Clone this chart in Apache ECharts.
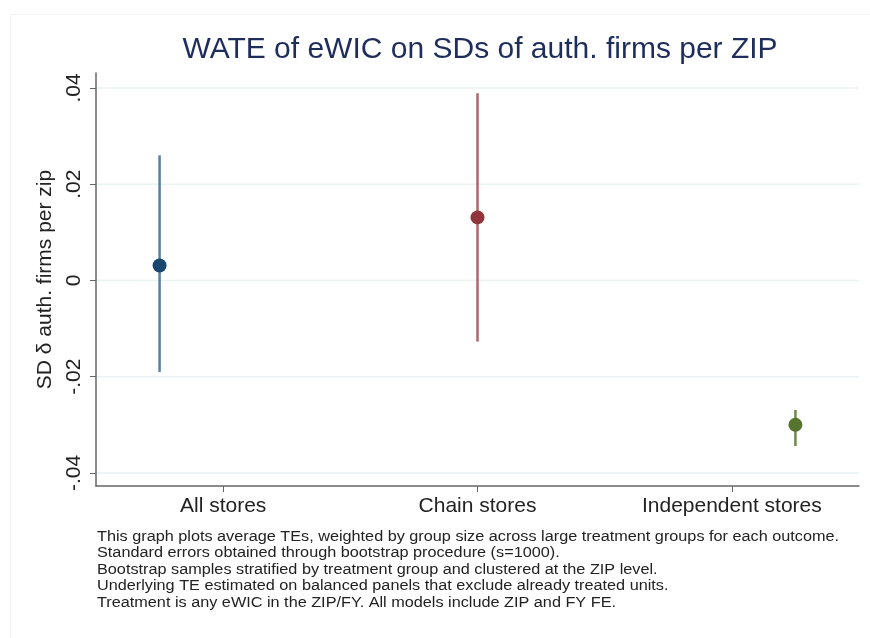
<!DOCTYPE html>
<html>
<head>
<meta charset="utf-8">
<script src="https://cdn.jsdelivr.net/npm/echarts@6/dist/echarts.min.js"></script>
<style>
	html, body { margin: 0; padding: 0; background: #fff; }
	#chart { width: 870px; height: 638px; }
</style>
</head>
<body>
<div id="chart"></div>
<script>
	'use strict'
	var groups = ['All stores', 'Chain stores', 'Independent stores'];
	var xPos = [1, 2, 3];
	var labelPos = [1.2, 2, 2.8];
	var estimate = [0.0031, 0.0131, -0.0300];
	var ciLow = [-0.0190, -0.0127, -0.0344];
	var ciHigh = [0.0260, 0.0389, -0.0269];
	var yTicks = [-0.04, -0.02, 0, 0.02, 0.04];
	var yTickLabels = ['-.04', '-.02', '0', '.02', '.04'];
	var notes = [
		'This graph plots average TEs, weighted by group size across large treatment groups for each outcome.',
		'Standard errors obtained through bootstrap procedure (s=1000).',
		'Bootstrap samples stratified by treatment group and clustered at the ZIP level.',
		'Underlying TE estimated on balanced panels that exclude already treated units.',
		'Treatment is any eWIC in the ZIP/FY. All models include ZIP and FY FE.'
	];

	var dotColors = ['#1a476f', '#90353b', '#55752f'];
	var barColors = ['#5a7ea2', '#b0646b', '#6d8a4c'];
	var font = 'Liberation Sans, Arial, sans-serif';

	/*----Chart----*/
	var chart = echarts.init(document.getElementById('chart'));
	var option = {
		animation: false,
		backgroundColor: '#fff',
		title: {
			text: 'WATE of eWIC on SDs of auth. firms per ZIP',
			left: 475,
			textAlign: 'center',
			top: 30,
			textStyle: {
				fontFamily: font,
				fontSize: 30,
				fontWeight: 'normal',
				color: '#1e2d5c'
			}
		},
		grid: {
			left: 96,
			right: 11,
			top: 73,
			bottom: 152,
			outerBoundsMode: 'none'
		},
		xAxis: {
			type: 'value',
			min: 0.8,
			max: 3.2,
			axisLine: {
				show: true,
				onZero: false,
				lineStyle: { color: '#666', width: 1.5 }
			},
			axisTick: {
				show: true,
				length: 6,
				customValues: labelPos,
				lineStyle: { color: '#666' }
			},
			axisLabel: {
				customValues: labelPos,
				margin: 10,
				fontFamily: font,
				fontSize: 21,
				color: '#222',
				formatter: function(v) {
					for (var i = 0; i < labelPos.length; i++) {
						if (Math.abs(labelPos[i] - v) < 1e-6) return groups[i];
					}
					return '';
				}
			},
			splitLine: { show: false }
		},
		yAxis: {
			type: 'value',
			min: -0.0427,
			max: 0.0431,
			name: 'SD \u03b4 auth. firms per zip',
			nameLocation: 'middle',
			nameRotate: 90,
			nameGap: 40,
			nameTextStyle: {
				fontFamily: font,
				fontSize: 21,
				color: '#222'
			},
			axisLine: {
				show: true,
				onZero: false,
				lineStyle: { color: '#666', width: 1.5 }
			},
			axisTick: {
				show: true,
				length: 6,
				customValues: yTicks,
				lineStyle: { color: '#666' }
			},
			axisLabel: {
				customValues: yTicks,
				rotate: 90,
				margin: 11,
				fontFamily: font,
				fontSize: 21,
				color: '#222',
				formatter: function(v) {
					for (var i = 0; i < yTicks.length; i++) {
						if (Math.abs(yTicks[i] - v) < 1e-9) return yTickLabels[i];
					}
					return '';
				}
			},
			splitLine: {
				show: false
			}
		},
		series: [{
			// horizontal grid lines at the y ticks
			type: 'custom',
			silent: true,
			z: 1,
			data: yTicks.map(function(t) { return [t]; }),
			renderItem: function(params, api) {
				var p0 = api.coord([0.8, api.value(0)]);
				var p1 = api.coord([3.2, api.value(0)]);
				return {
					type: 'line',
					shape: { x1: p0[0] + 1, y1: p0[1], x2: p1[0], y2: p1[1] },
					style: { stroke: '#eaf2f3', lineWidth: 1.5 }
				};
			}
		}, {
			type: 'custom',
			z: 2,
			data: xPos.map(function(x, i) { return [x, ciLow[i], ciHigh[i], i]; }),
			renderItem: function(params, api) {
				var lo = api.coord([api.value(0), api.value(1)]);
				var hi = api.coord([api.value(0), api.value(2)]);
				return {
					type: 'line',
					shape: { x1: lo[0], y1: lo[1], x2: hi[0], y2: hi[1] },
					style: { stroke: barColors[api.value(3)], lineWidth: 2.5 }
				};
			}
		}, {
			type: 'scatter',
			z: 3,
			symbolSize: 14,
			data: xPos.map(function(x, i) {
				return { value: [x, estimate[i]], itemStyle: { color: dotColors[i], opacity: 1 } };
			})
		}],
		graphic: [{
			type: 'rect',
			left: 8,
			top: 12,
			shape: { width: 900, height: 700 },
			style: { fill: 'none', stroke: '#f0f2f3', lineWidth: 1 },
			silent: true
		}, {
			type: 'text',
			x: 97,
			y: 529,
			scaleX: 1.16,
			style: {
				text: notes.join('\n'),
				fontFamily: font,
				fontSize: 14,
				lineHeight: 16.4,
				fill: '#222'
			}
		}]
	};
	chart.setOption(option);
</script>
</body>
</html>
